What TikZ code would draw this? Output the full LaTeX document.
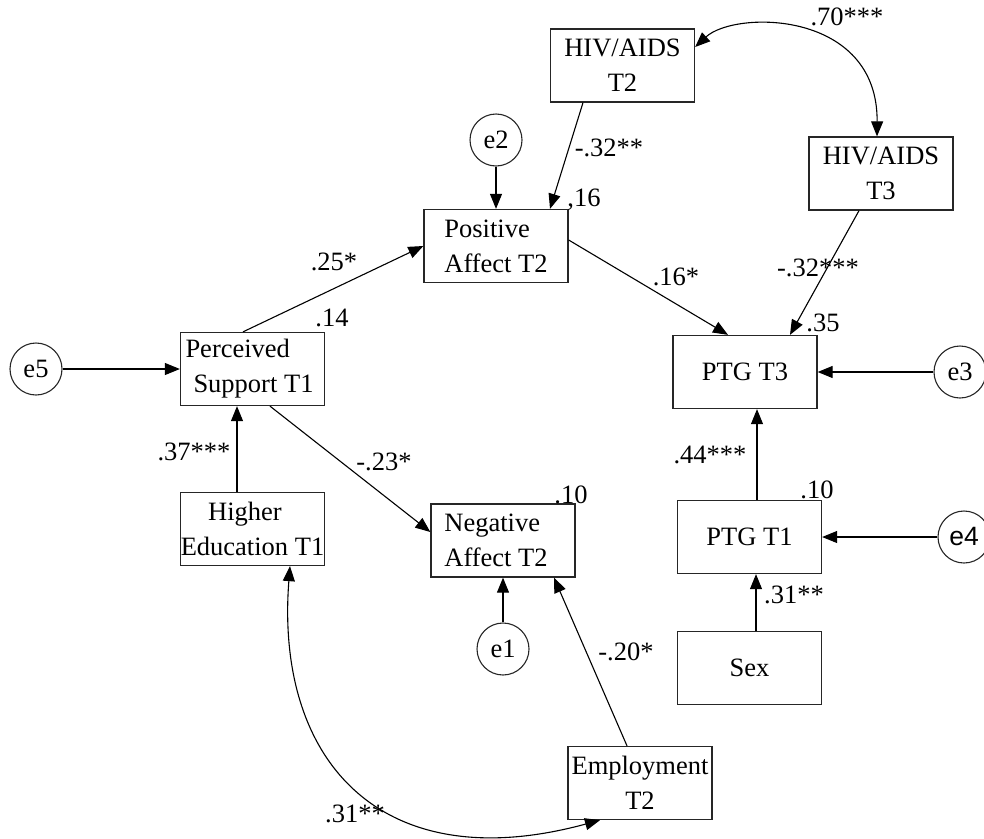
\documentclass[tikz,border=0pt]{standalone}
\usepackage{fontspec}
\setmainfont{Liberation Serif}
\newfontfamily\arialfont{Liberation Sans}
\usetikzlibrary{arrows.meta}
\begin{document}
\begin{tikzpicture}[x=1pt,y=-1pt,
  font=\fontsize{26.5}{35}\selectfont,
  box/.style={draw=black!85,line width=1.3pt,minimum width=144pt,minimum height=73pt,inner sep=0pt,align=center},
  err/.style={draw=black!85,line width=1.1pt,circle,minimum size=52pt,inner sep=0pt},
  arr/.style={line width=1.1pt,-{Triangle[length=15pt,width=12pt]}},
  cov/.style={line width=1.1pt,{Triangle[length=15pt,width=12pt]}-{Triangle[length=15pt,width=12pt]}},
  lab/.style={inner sep=0pt}
]
\useasboundingbox (0,0) rectangle (984,838);
% boxes
\node[box] (hiv2) at (622.5,65.5) {HIV/AIDS\\T2};
\node[box] (hiv3) at (881,173.5) {HIV/AIDS\\T3};
\node[box,align=left] (pos) at (496,246) {Positive\\Affect T2};
\node[box,align=left] (per) at (252.5,369) {Perceived\\\hspace*{8pt}Support T1\hspace*{6pt}};
\node[box] (hed) at (252.5,529) {Higher\hspace*{15pt}\\Education T1};
\node[box,align=left] (neg) at (503,540.5) {Negative\\Affect T2\hspace*{14pt}};
\node[box] (emp) at (640,783) {Employment\\T2};
\node[box] (ptg3) at (745,372) {PTG T3};
\node[box] (ptg1) at (749.5,537) {PTG T1};
\node[box] (sex) at (749.5,668) {Sex};
% error terms
\node[err] (e2) at (496,140) {e2};
\node[err] (e5) at (36,369) {e5};
\node[err] (e1) at (503,649) {e1};
\node[err] (e3) at (960,372) {e3};
\node[err] (e4) at (964,537) {\arialfont e4};
% paths
\draw[arr] ([xshift=-39.5pt]hiv2.south) -- ([xshift=54pt]pos.north);
\draw[arr] (e2.south) -- (pos.north);
\draw[arr] ([yshift=6pt]pos.east) -- ([xshift=-17pt]ptg3.north);
\draw[arr] ([xshift=-22pt]hiv3.south) -- ([xshift=45pt]ptg3.north);
\draw[arr] (e3.west) -- (ptg3.east);
\draw[arr] ([xshift=7.5pt]ptg1.north) -- ([xshift=12pt]ptg3.south);
\draw[arr] (e4.west) -- (ptg1.east);
\draw[arr] ([xshift=6.5pt]sex.north) -- ([xshift=6.5pt]ptg1.south);
\draw[arr] ([xshift=-9.5pt]per.north) -- (pos.west);
\draw[arr] (e5.east) -- (per.west);
\draw[arr] ([xshift=-15.5pt]hed.north) -- ([xshift=-15.5pt]per.south);
\draw[arr] ([xshift=17.5pt]per.south) -- ([yshift=8.5pt]neg.west);
\draw[arr] (e1.north) -- (neg.south);
\draw[arr] ([xshift=-13pt]emp.north) -- ([xshift=51pt]neg.south);
% covariances
\draw[cov] ([yshift=18.5pt]hiv2.east) .. controls (735,10) and (878,10) .. ([xshift=-4pt]hiv3.north);
\draw[cov] ([xshift=37.5pt]hed.south) .. controls (275,760) and (380,880) .. ([xshift=-40pt]emp.south);
% labels
\node[lab] (l70) at (847,17) {.70***};
\node[lab] (l32a) at (609,148) {-.32**};
\node[lab] (r16) at (584,200) {,16};
\node[lab] (l25) at (334,262) {.25*};
\node[lab] (r14) at (332,318) {.14};
\node[lab] (l16) at (676,277) {.16*};
\node[lab] (l32b) at (818,268) {-.32***};
\node[lab] (r35) at (823,323) {.35};
\node[lab] (l37) at (194,452) {.37***};
\node[lab] (l23) at (384,462) {-.23*};
\node[lab] (r10a) at (571,495) {.10};
\node[lab] (l44) at (710,455) {.44***};
\node[lab] (r10b) at (817,490) {.10};
\node[lab] (l31a) at (794,595) {.31**};
\node[lab] (l20) at (626,652) {-.20*};
\node[lab] (l31b) at (355,814) {.31**};
\end{tikzpicture}
\end{document}
